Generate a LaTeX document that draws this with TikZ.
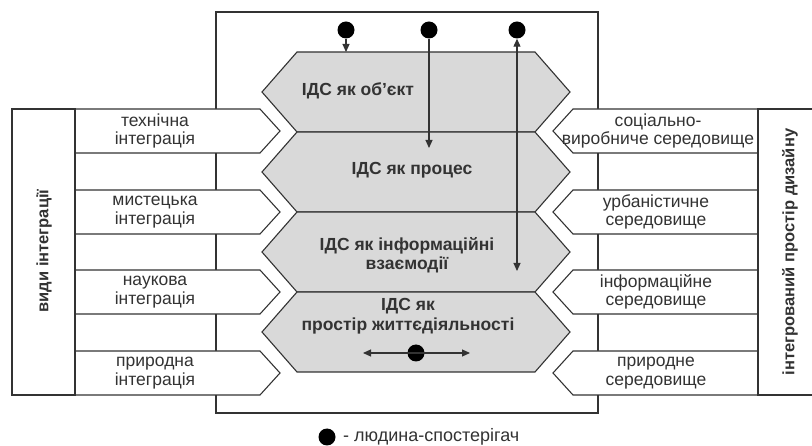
\documentclass[tikz,border=0pt]{standalone}
\usepackage{fontspec}
\setmainfont{Liberation Sans}
\usetikzlibrary{arrows.meta}
\definecolor{ln}{HTML}{333333}
\definecolor{hexfill}{HTML}{D9D9D9}
\begin{document}
\begin{tikzpicture}[x=1pt,y=-1pt,
  every node/.style={font=\fontsize{17.5}{18.5}\selectfont, text=ln, inner sep=0pt, align=center},
  lnst/.style={draw=ln, line width=1.1pt},
  hexbox/.style={lnst, fill=hexfill, line join=miter},
  arrbox/.style={lnst, fill=white},
  hextext/.style={font=\fontsize{17.5}{19.5}\selectfont\bfseries},
  vtext/.style={font=\fontsize{16.5}{19}\selectfont\bfseries, rotate=90},
  person/.style={circle, fill=black, minimum size=17pt, inner sep=0pt},
  arr/.style={draw=ln, line width=1.1pt, -{Triangle[length=8pt,width=7pt]}},
  darr/.style={draw=ln, line width=1.1pt, {Triangle[length=8pt,width=7pt]}-{Triangle[length=8pt,width=7pt]}}
]
\useasboundingbox (0,0) rectangle (812,446);
\fill[white] (0,0) rectangle (812,446);
% outer frame
\draw[lnst] (216,12) rectangle (598,413);
% hexagons
\foreach \t in {52,132,212,292}{
  \draw[hexbox] (297,\t) -- (535,\t) -- (570,\t+40) -- (535,\t+80) -- (297,\t+80) -- (262,\t+40) -- cycle;
}
% left arrows
\foreach \m in {131,212,292,373}{
  \draw[arrbox] (75,\m-22) -- (260,\m-22) -- (280,\m) -- (260,\m+22) -- (75,\m+22) -- cycle;
}
% right arrows
\foreach \m in {131,212,292,373}{
  \draw[arrbox] (758,\m-22) -- (573,\m-22) -- (553,\m) -- (573,\m+22) -- (758,\m+22) -- cycle;
}
% side label boxes
\draw[lnst] (12,109) rectangle (75,395);
\draw[lnst] (758,109) rectangle (816,395);
\node[vtext] (vl) at (44,251) {види інтеграції};
\node[vtext] (vr) at (790,252) {інтегрований простір дизайну};
% left texts
\node (l1) at (155,131) {технічна\\інтеграція};
\node (l2) at (155,212) {мистецька\\інтеграція};
\node (l3) at (155,292) {наукова\\інтеграція};
\node (l4) at (155,373) {природна\\інтеграція};
% right texts
\node (r1) at (658,131) {соціально-\\виробниче середовище};
\node (r2) at (656,212) {урбаністичне\\середовище};
\node (r3) at (656,292) {інформаційне\\середовище};
\node (r4) at (656,373) {природне\\середовище};
% hex texts
\node[hextext] (h1) at (358,91) {ІДС як об’єкт};
\node[hextext] (h2) at (412,170) {ІДС як процес};
\node[hextext] (h3) at (407,255) {ІДС як інформаційні\\взаємодії};
\node[hextext] (h4) at (408,316) {ІДС як\\простір життєдіяльності};
% persons and arrows
\node[person] (p1) at (346,30) {};
\node[person] (p2) at (429,30) {};
\node[person] (p3) at (517,30) {};
\coordinate (e1) at (346,52);
\coordinate (e2) at (429,148);
\coordinate (e3) at (517,271);
\draw[arr] (p1) -- (e1);
\draw[arr] (p2) -- (e2);
\draw[darr] (e3) -- (p3);
\node[person] (p4) at (416,353) {};
\coordinate (bl) at (363,353);
\coordinate (br) at (470,353);
\draw[darr] (bl) -- (br);
% legend
\node[person] (lg) at (327,437) {};
\node[anchor=west, font=\fontsize{18}{20}\selectfont] (lgt) at (343,436.5) {- людина-спостерігач};
\end{tikzpicture}
\end{document}
